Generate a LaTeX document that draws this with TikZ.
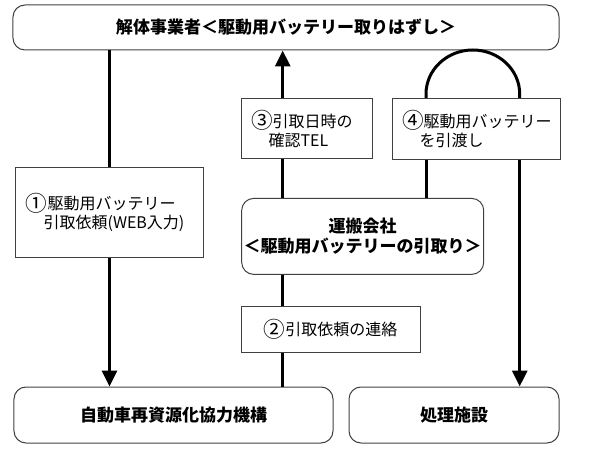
\documentclass[tikz,border=0pt]{standalone}
\usepackage{fontspec}
\setmainfont{Noto Sans CJK JP}
\newfontfamily\circfont{Noto Sans CJK JP}[Scale=1.35]
\usepackage{tikz}
\usetikzlibrary{arrows.meta,calc,positioning}
\definecolor{boxline}{gray}{0.25}
\newcommand{\circnum}[1]{{\circfont\raisebox{-0.08em}{#1}}}

\begin{document}
\begin{tikzpicture}[x=1bp,y=-1bp]

\tikzset{roundbox/.style={draw=boxline,line width=1bp,rounded corners=12bp,inner sep=0pt,font=\fontsize{17bp}{20bp}\selectfont\bfseries,align=center},
labelbox/.style={draw=boxline,line width=1bp,inner xsep=10bp,inner ysep=0pt,font=\fontsize{16bp}{19bp}\selectfont,align=left},
flowline/.style={line width=3bp},
flowarrow/.style={line width=3bp,-{Triangle[width=15bp,length=16bp]}}}

\useasboundingbox (0,0) rectangle (593,453);

% Main boxes
\node [roundbox,minimum width=546bp,minimum height=45bp] (dismantle) at (286,27.5) {解体事業者＜駆動用バッテリー取りはずし＞};
\node [roundbox,minimum width=242bp,minimum height=76bp] (carrier) at (362.7,236.4) {運搬会社\\＜駆動用バッテリーの引取り＞};
\node [roundbox,minimum width=319bp,minimum height=56bp] (jarp) at (173.5,415) {自動車再資源化協力機構};
\node [roundbox,minimum width=210bp,minimum height=56bp] (plant) at (454,415) {処理施設};

% Label boxes
\node [labelbox,text width=167bp,minimum height=90bp] (stepOne) at (109.5,212.6) {\circnum{①}駆動用バッテリー\\\hspace{1.1em}引取依頼(WEB入力)};
\node [labelbox,align=center,text width=159bp,minimum height=45.6bp] (stepTwo) at (330.5,329.5) {\circnum{②}引取依頼の連絡};
\node [labelbox,text width=111bp,minimum height=60bp] (stepThree) at (306.5,129) {\circnum{③}引取日時の\\\hspace{1.1em}確認TEL};
\node [labelbox,text width=148bp,minimum height=61bp] (stepFour) at (476,129) {\circnum{④}駆動用バッテリー\\\hspace{1.1em}を引渡し};

% Line positions
\coordinate (midLn) at (282.7,0);
\coordinate (rightA) at (426,0);
\coordinate (rightB) at (519.7,0);

% Edges
\draw [flowline] (stepOne.north |- dismantle.south) -- (stepOne.north);
\draw [flowarrow] (stepOne.south) -- (stepOne.south |- jarp.north);
\draw [flowarrow] (midLn |- stepThree.north) -- (midLn |- dismantle.south);
\draw [flowline] (midLn |- stepThree.south) -- (midLn |- carrier.north);
\draw [flowline] (midLn |- carrier.south) -- (midLn |- stepTwo.north);
\draw [flowline] (midLn |- stepTwo.south) -- (midLn |- jarp.north);
\draw [flowline] (rightA |- stepFour.north) -- ++(0,-4) arc[start angle=180,end angle=0,x radius=46.85bp,y radius=44bp] -- (rightB |- stepFour.north);
\draw [flowline] (rightA |- stepFour.south) -- (rightA |- carrier.north);
\draw [flowarrow] (rightB |- stepFour.south) -- (rightB |- plant.north);

\end{tikzpicture}
\end{document}
